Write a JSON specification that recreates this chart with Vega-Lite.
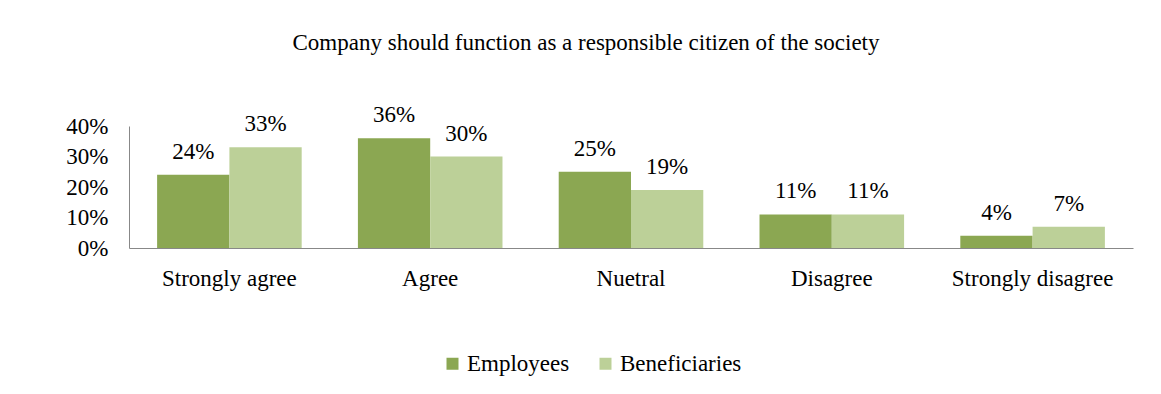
{
  "$schema": "https://vega.github.io/schema/vega-lite/v6.json",
  "autosize": {"type": "none"},
  "width": 1004,
  "height": 122,
  "padding": {"left": 129, "top": 126, "right": 28, "bottom": 146},
  "background": "white",
  "title": {
    "text": "Company should function as a responsible citizen of the society",
    "font": "Liberation Serif",
    "fontSize": 23,
    "fontWeight": "normal",
    "color": "#000000",
    "anchor": "middle",
    "dx": -45,
    "offset": 49
  },
  "data": {
    "values": [
      {"category": "Strongly agree", "group": "Employees", "value": 0.24},
      {"category": "Strongly agree", "group": "Beneficiaries", "value": 0.33},
      {"category": "Agree", "group": "Employees", "value": 0.36},
      {"category": "Agree", "group": "Beneficiaries", "value": 0.30},
      {"category": "Nuetral", "group": "Employees", "value": 0.25},
      {"category": "Nuetral", "group": "Beneficiaries", "value": 0.19},
      {"category": "Disagree", "group": "Employees", "value": 0.11},
      {"category": "Disagree", "group": "Beneficiaries", "value": 0.11},
      {"category": "Strongly disagree", "group": "Employees", "value": 0.04},
      {"category": "Strongly disagree", "group": "Beneficiaries", "value": 0.07}
    ]
  },
  "encoding": {
    "x": {
      "field": "category",
      "type": "nominal",
      "sort": ["Strongly agree", "Agree", "Nuetral", "Disagree", "Strongly disagree"],
      "scale": {"paddingInner": 0.28, "paddingOuter": 0.14},
      "axis": {
        "title": null,
        "labelAngle": 0,
        "labelFont": "Liberation Serif",
        "labelFontSize": 23,
        "labelColor": "#000000",
        "labelPadding": 19,
        "ticks": false,
        "domainColor": "#888888",
        "domainWidth": 1
      }
    },
    "xOffset": {
      "field": "group",
      "type": "nominal",
      "sort": ["Employees", "Beneficiaries"],
      "scale": {"paddingInner": 0, "paddingOuter": 0}
    },
    "y": {
      "field": "value",
      "type": "quantitative",
      "scale": {"domain": [0, 0.4], "nice": false},
      "axis": {
        "title": null,
        "format": ".0%",
        "values": [0, 0.1, 0.2, 0.3, 0.4],
        "grid": false,
        "ticks": false,
        "labelPadding": 21,
        "labelFont": "Liberation Serif",
        "labelFontSize": 23,
        "labelColor": "#000000",
        "domainColor": "#888888",
        "domainWidth": 1
      }
    }
  },
  "layer": [
    {
      "mark": {"type": "bar"},
      "encoding": {
        "color": {
          "field": "group",
          "type": "nominal",
          "sort": ["Employees", "Beneficiaries"],
          "scale": {"domain": ["Employees", "Beneficiaries"], "range": ["#8BA752", "#BCD098"]},
          "legend": {
            "title": null,
            "orient": "none",
            "direction": "horizontal",
            "legendX": 312,
            "legendY": 226,
            "symbolType": "square",
            "symbolSize": 144,
            "symbolStrokeWidth": 0,
            "labelFont": "Liberation Serif",
            "labelFontSize": 23,
            "labelColor": "#000000",
            "labelOffset": 3,
            "columnPadding": 24
          }
        }
      }
    },
    {
      "mark": {
        "type": "text",
        "baseline": "alphabetic",
        "dy": -16,
        "font": "Liberation Serif",
        "fontSize": 23,
        "color": "#000000"
      },
      "encoding": {
        "text": {"field": "value", "type": "quantitative", "format": ".0%"}
      }
    }
  ],
  "config": {
    "view": {"stroke": null}
  }
}
